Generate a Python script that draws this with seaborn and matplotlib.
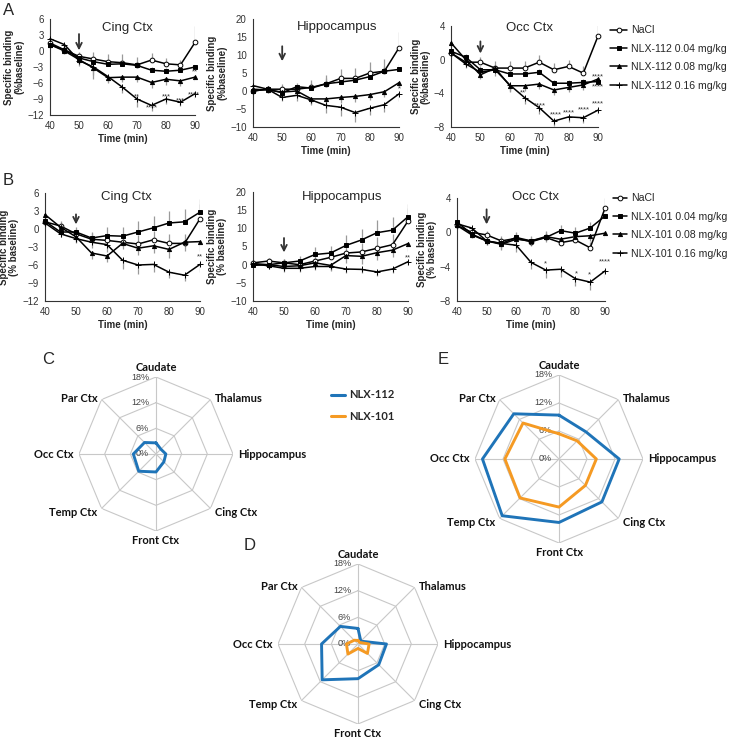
import numpy as np
import pandas as pd
import matplotlib
matplotlib.use('Agg')
import matplotlib.pyplot as plt
import seaborn as sns

# ---- time course data (rows: NaCl, 0.04, 0.08, 0.16 mg/kg) ----
time_min = [40, 45, 50, 55, 60, 65, 70, 75, 80, 85, 90]
dose_labels = ['0.04 mg/kg', '0.08 mg/kg', '0.16 mg/kg']

a_cing = [[1.5, 0.2, -1.0, -1.5, -2.0, -2.2, -2.6, -1.7, -2.4, -2.6, 1.6],
          [1.2, 0.2, -1.3, -2.0, -2.5, -2.4, -2.7, -3.6, -3.8, -3.6, -3.0],
          [1.2, 0.0, -1.6, -3.2, -5.0, -4.9, -4.9, -5.9, -5.3, -5.6, -4.9],
          [2.3, 1.2, -1.8, -3.0, -4.8, -6.8, -9.0, -10.2, -9.0, -9.6, -8.0]]
a_hippo = [[0.0, 0.5, 0.5, 0.5, 1.0, 2.0, 3.5, 3.5, 5.0, 5.5, 12.0],
           [0.0, 0.5, -0.5, 1.2, 0.8, 2.0, 2.5, 3.0, 4.0, 5.5, 6.0],
           [0.5, 0.3, -0.3, 0.0, -2.2, -2.2, -1.8, -1.5, -1.0, -0.2, 2.3],
           [1.5, 0.5, -1.8, -1.2, -2.5, -4.0, -4.5, -6.0, -4.8, -3.8, -0.8]]
a_occ = [[0.8, -0.3, -0.3, -1.0, -1.0, -1.0, -0.3, -1.2, -0.8, -1.6, 2.8],
         [1.0, 0.3, -1.2, -1.2, -1.7, -1.7, -1.5, -2.8, -2.8, -2.7, -2.6],
         [2.0, 0.0, -1.8, -1.0, -3.1, -3.1, -2.9, -3.6, -3.3, -3.0, -2.3],
         [0.8, -0.5, -1.5, -1.2, -3.0, -4.5, -5.7, -7.3, -6.8, -6.9, -6.0]]

b_cing = [[1.2, 0.5, -0.8, -1.7, -1.9, -2.2, -2.5, -1.8, -2.4, -2.4, 1.7],
          [1.3, -0.5, -0.5, -1.5, -1.1, -1.2, -0.5, 0.2, 1.0, 1.2, 2.8],
          [2.4, 0.3, -1.3, -4.0, -4.5, -2.4, -3.2, -2.8, -3.4, -2.2, -2.1],
          [1.0, -0.8, -1.6, -2.2, -2.6, -5.2, -6.0, -5.9, -7.2, -7.7, -5.9]]
b_hippo = [[0.5, 1.0, 0.5, 0.0, 1.0, 2.0, 3.2, 3.5, 4.5, 5.5, 12.0],
           [-0.2, 0.0, 0.5, 1.0, 2.8, 3.2, 5.3, 6.8, 8.8, 9.5, 13.2],
           [0.3, 0.0, -0.5, -0.3, 0.5, -0.2, 2.5, 2.3, 3.3, 4.0, 5.8],
           [0.2, -0.3, -1.0, -1.0, -0.5, -0.5, -1.2, -1.3, -2.0, -1.2, 0.8]]
b_occ = [[0.8, 0.0, -0.3, -1.0, -0.7, -1.1, -0.6, -1.2, -0.9, -1.8, 2.8],
         [1.2, -0.2, -1.0, -1.3, -0.6, -1.0, -0.6, 0.2, -0.1, 0.5, 1.9],
         [0.8, -0.3, -1.0, -1.4, -0.8, -1.0, -0.5, -0.8, -0.5, -0.4, -0.1],
         [1.0, 0.5, -1.0, -1.3, -1.5, -3.5, -4.4, -4.3, -5.4, -5.8, -4.5]]

# SEM lengths (NaCl / 0.04 drawn upward, 0.08 / 0.16 downward)
a_cing_err = [[0.8, 0.8, 0.8, 1.3, 1.5, 1.6, 1.5, 1.3, 1.0, 1.0, 3.0],
              [0.5, 0.5, 0.6, 0.6, 0.6, 0.6, 0.6, 0.6, 0.6, 0.6, 0.6],
              [0.6, 0.6, 0.8, 2.0, 1.0, 1.0, 1.0, 1.0, 1.0, 1.0, 0.8],
              [0.8, 0.8, 1.0, 1.5, 1.0, 1.0, 1.5, 1.0, 1.0, 0.8, 1.0]]
a_hippo_err = [[1.0, 1.0, 1.5, 1.5, 2.0, 2.5, 2.5, 3.0, 3.0, 3.5, 4.5],
               [0.8, 0.8, 1.0, 1.0, 1.5, 1.5, 1.5, 1.5, 1.5, 1.5, 1.5],
               [0.8, 0.8, 1.0, 1.0, 1.5, 1.5, 1.5, 1.5, 1.5, 1.5, 1.5],
               [1.0, 1.0, 1.0, 1.5, 1.5, 2.0, 2.5, 2.5, 2.0, 2.0, 2.0]]
a_occ_err = [[0.5, 0.5, 0.6, 0.8, 0.8, 0.8, 0.8, 0.8, 0.8, 0.8, 1.5],
             [0.4, 0.4, 0.4, 0.4, 0.4, 0.4, 0.4, 0.4, 0.4, 0.4, 0.4],
             [0.4, 0.4, 0.5, 0.5, 0.6, 0.6, 0.6, 0.6, 0.6, 0.6, 0.6],
             [0.5, 0.5, 0.6, 0.8, 0.8, 0.8, 0.8, 0.6, 0.6, 0.6, 0.6]]
b_cing_err = [[0.8, 0.8, 0.8, 1.0, 1.2, 1.5, 1.5, 1.5, 1.5, 1.5, 2.5],
              [0.6, 0.6, 0.8, 1.0, 1.5, 1.5, 1.8, 2.0, 2.0, 2.2, 2.2],
              [0.6, 0.6, 0.8, 1.0, 1.0, 1.0, 1.2, 1.2, 1.5, 1.5, 1.5],
              [0.6, 0.6, 0.8, 1.0, 1.2, 1.5, 1.5, 1.2, 1.0, 1.0, 1.2]]
b_hippo_err = [[0.8, 0.8, 1.0, 1.0, 1.5, 2.0, 2.5, 2.5, 3.0, 3.0, 3.5],
               [0.8, 0.8, 1.0, 1.5, 2.0, 2.0, 3.0, 3.0, 3.5, 3.5, 3.5],
               [0.8, 0.8, 1.0, 1.0, 1.5, 1.5, 2.0, 2.0, 2.0, 2.0, 2.0],
               [0.8, 0.8, 1.0, 1.0, 1.0, 1.0, 1.0, 1.0, 1.0, 1.0, 1.0]]
b_occ_err = [[0.4, 0.4, 0.5, 0.6, 0.6, 0.6, 0.6, 0.6, 0.6, 0.7, 1.2],
             [0.4, 0.4, 0.5, 0.6, 0.6, 0.6, 0.7, 0.7, 0.7, 0.7, 0.8],
             [0.4, 0.4, 0.5, 0.6, 0.6, 0.6, 0.6, 0.6, 0.6, 0.6, 0.6],
             [0.4, 0.4, 0.5, 0.6, 0.8, 0.8, 0.9, 0.9, 0.9, 0.9, 0.8]]

# significance marks (time, y, label)
a_cing_stars = [(70, -8.6, '**'), (75, -10.6, '****'), (80, -8.6, '***'),
                (85, -9.4, '***'), (89.5, -8.2, '****'), (90, -4.0, '**')]
a_hippo_stars = [(90, 0.6, '*')]
a_occ_stars = [(64.6, -4.0, '**'), (70.2, -5.5, '****'), (75.7, -6.6, '****'),
               (80.2, -6.3, '****'), (85.2, -6.0, '****'), (90, -5.2, '****'),
               (90, -2.0, '****'), (90, -3.2, '****')]
b_cing_stars = [(90, -4.7, '**')]
b_hippo_stars = [(90, 2.0, '**')]
b_occ_stars = [(69.7, -3.7, '*'), (80.2, -4.8, '*'), (84.7, -4.9, '*'), (90, -3.4, '****')]

# injection arrows (y start, y end) at t = 50 min
a_arrows = [(3.7, -0.4), (13.2, 7.5), (2.5, 0.4)]
b_arrows = [(2.9, 0.3), (8.1, 2.6), (3.0, 0.6)]

# ---- radar data (% change) ----
regions = ['Caudate', 'Thalamus', 'Hippocampus', 'Cing Ctx',
           'Front Ctx', 'Temp Ctx', 'Occ Ctx', 'Par Ctx']
c_nlx112 = [2.6, 1.6, 2.3, 2.6, 4.2, 5.7, 5.3, 3.8]
d_nlx112 = [3.5, 0.9, 6.4, 6.6, 7.8, 11.4, 8.2, 5.6]
d_nlx101 = [0.8, 0.5, 2.5, 3.0, 1.0, 3.2, 2.6, 1.2]
e_nlx112 = [9.4, 8.2, 12.9, 13.0, 13.6, 17.2, 16.4, 13.7]
e_nlx101 = [5.4, 5.5, 8.0, 8.0, 10.3, 11.8, 11.6, 10.9]
r_ticks = [0, 6, 12, 18]

BLUE = '#1f74b8'
ORANGE = '#f59a23'
GRID = '#c8c8c8'
ERR = '#9a9a9a'

sns.set_style('white')
plt.rcParams['font.family'] = ['Liberation Sans', 'DejaVu Sans']

W, H = 740, 739
fig = plt.figure(figsize=(W / 100, H / 100), dpi=100)


def box(l, t, r, b):
    return [l / W, 1 - b / H, (r - l) / W, (b - t) / H]


markers = ['o', 's', '^', '+']
msizes = [3.4, 3.0, 3.0, 4.2]
faces = ['white', 'black', 'black', 'black']


def time_panel(rect, vals, errs, stars, arrow, ylim, yticks, ylabel, drug):
    ax = fig.add_axes(box(*rect))
    for i in range(4):
        name = 'NaCl' if i == 0 else f'{drug} {dose_labels[i - 1]}'
        up = i < 2
        lo = [0] * len(errs[i]) if up else errs[i]
        hi = errs[i] if up else [0] * len(errs[i])
        ax.errorbar(time_min, vals[i], yerr=[lo, hi], fmt='none',
                    ecolor=ERR, elinewidth=0.9, capsize=0, zorder=1)
        sns.lineplot(x=time_min, y=vals[i], ax=ax, color='black', lw=1.1,
                     marker=markers[i], markersize=msizes[i],
                     markerfacecolor=faces[i], markeredgecolor='black',
                     markeredgewidth=0.7, label=name, clip_on=False,
                     estimator=None, zorder=3)
    for x, y, s in stars:
        ax.text(x, y, s, ha='center', va='center', fontsize=5.5, color='#333')
    ax.annotate('', xy=(50, arrow[1]), xytext=(50, arrow[0]),
                arrowprops=dict(arrowstyle='->', color='#333', lw=1.3))
    ax.set_xlim(40, 90)
    ax.set_ylim(*ylim)
    ax.set_xticks([40, 50, 60, 70, 80, 90])
    ax.set_yticks(yticks)
    ax.tick_params(labelsize=7, colors='#333', length=2.5, width=0.6, pad=2)
    for s in ['top', 'right']:
        ax.spines[s].set_visible(False)
    for s in ['left', 'bottom']:
        ax.spines[s].set_color('#333')
        ax.spines[s].set_linewidth(0.8)
    ax.set_xlabel('Time (min)', fontsize=7, fontweight='bold', labelpad=2)
    ax.set_ylabel(ylabel, fontsize=7, fontweight='bold', labelpad=2,
                  linespacing=1.0)
    ax.get_legend().remove()
    return ax


def panel_title(x, y, s):
    fig.text(x / W, 1 - y / H, s, ha='center', va='center', fontsize=9.5)


# ---- A ----
time_panel((50, 19, 195, 115), a_cing, a_cing_err, a_cing_stars, a_arrows[0],
           (-12, 6), [-12, -9, -6, -3, 0, 3, 6], 'Specific binding\n(%baseline)', 'NLX-112')
time_panel((253, 19, 399, 127), a_hippo, a_hippo_err, a_hippo_stars, a_arrows[1],
           (-10, 20), [-10, -5, 0, 5, 10, 15, 20], 'Specific binding\n(%baseline)', 'NLX-112')
ax_ao = time_panel((451, 26, 598, 127), a_occ, a_occ_err, a_occ_stars, a_arrows[2],
                   (-8, 4), [-8, -4, 0, 4], 'Specific binding\n(%baseline)', 'NLX-112')
panel_title(127, 28, 'Cing Ctx')
panel_title(337, 27, 'Hippocampus')
panel_title(529, 28, 'Occ Ctx')
h, l = ax_ao.get_legend_handles_labels()
fig.legend(h, l, loc='upper left', bbox_to_anchor=(606 / W, 1 - 21 / H),
           frameon=False, fontsize=7.6, handlelength=1.6, handletextpad=0.35,
           labelspacing=0.8, borderaxespad=0)

# ---- B ----
time_panel((45, 193, 200, 301), b_cing, b_cing_err, b_cing_stars, b_arrows[0],
           (-12, 6), [-12, -9, -6, -3, 0, 3, 6], 'Specific binding\n(% baseline)', 'NLX-101')
time_panel((253, 192, 408, 301), b_hippo, b_hippo_err, b_hippo_stars, b_arrows[1],
           (-10, 20), [-10, -5, 0, 5, 10, 15, 20], 'Specific binding\n(% baseline)', 'NLX-101')
ax_bo = time_panel((457, 198, 605, 301), b_occ, b_occ_err, b_occ_stars, b_arrows[2],
                   (-8, 4), [-8, -4, 0, 4], 'Specific binding\n(% baseline)', 'NLX-101')
panel_title(126, 197, 'Cing Ctx')
panel_title(342, 197, 'Hippocampus')
panel_title(536, 197, 'Occ Ctx')
h, l = ax_bo.get_legend_handles_labels()
fig.legend(h, l, loc='upper left', bbox_to_anchor=(609 / W, 1 - 189 / H),
           frameon=False, fontsize=7.6, handlelength=1.3, handletextpad=0.35,
           labelspacing=0.8, borderaxespad=0)

# ---- radar panels ----
angles = np.linspace(0, 2 * np.pi, len(regions), endpoint=False)
closed = np.append(angles, angles[0] + 2 * np.pi)
label_pos = [('center', 'bottom', 0, 3), ('left', 'center', 3, 1), ('left', 'center', 4, 0),
             ('left', 'center', 3, -3), ('center', 'top', 0, -3), ('right', 'center', -3, -3),
             ('right', 'center', -4, 0), ('right', 'center', -3, 1)]


def radar(rect, series):
    ax = fig.add_axes(box(*rect), projection='polar')
    ax.set_theta_zero_location('N')
    ax.set_theta_direction(-1)
    ax.set_ylim(0, 18)
    ax.grid(False)
    ax.spines['polar'].set_visible(False)
    ax.set_xticks([])
    ax.set_yticks([])
    ax.set_facecolor('none')
    for r in r_ticks[1:]:
        ax.plot(closed, [r] * len(closed), color=GRID, lw=0.8, zorder=1)
    for a in angles:
        ax.plot([a, a], [0, 18], color=GRID, lw=0.8, zorder=1)
    for r in r_ticks:
        ax.annotate(f'{r}%', xy=(0, r), xytext=(-5, 0), textcoords='offset points',
                    ha='right', va='center', fontsize=6.5, color='#444',
                    annotation_clip=False)
    for a, name, (ha, va, dx, dy) in zip(angles, regions, label_pos):
        ax.annotate(name, xy=(a, 18), xytext=(dx, dy), textcoords='offset points',
                    ha=ha, va=va, fontsize=8, fontweight='bold', family='Lato',
                    color='#111', annotation_clip=False)
    for vals, col in series:
        sns.lineplot(x=closed, y=vals + vals[:1], ax=ax, sort=False, estimator=None,
                     color=col, lw=2.1, zorder=3, clip_on=False)
    return ax


radar((79, 377, 233, 531), [(c_nlx112, BLUE)])
radar((278, 564, 438, 724), [(d_nlx112, BLUE), (d_nlx101, ORANGE)])
radar((475, 375, 643, 543), [(e_nlx112, BLUE), (e_nlx101, ORANGE)])

leg_handles = [plt.Line2D([], [], color=BLUE, lw=2.2), plt.Line2D([], [], color=ORANGE, lw=2.2)]
fig.legend(leg_handles, ['NLX-112', 'NLX-101'], loc='upper left',
           bbox_to_anchor=(327 / W, 1 - 385 / H), frameon=False, handlelength=1.2,
           handletextpad=0.4, labelspacing=0.95, borderaxespad=0,
           prop=dict(family='Lato', weight='bold', size=8))

# ---- panel letters ----
for x, y, s in [(3, 3, 'A'), (3, 173, 'B'), (42, 352, 'C'), (244, 538, 'D'), (438, 352, 'E')]:
    fig.text(x / W, 1 - y / H, s, ha='left', va='top', fontsize=12)

fig.savefig('out.png', dpi=100, facecolor='white')
